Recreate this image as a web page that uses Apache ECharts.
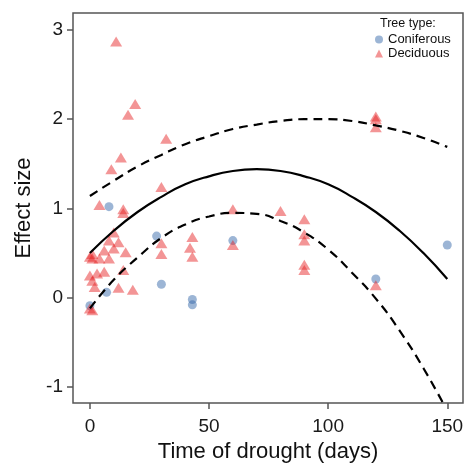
<!DOCTYPE html>
<html>
<head>
<meta charset="utf-8">
<script src="https://cdn.jsdelivr.net/npm/echarts@6/dist/echarts.min.js"></script>
<style>
  html, body { margin: 0; padding: 0; background: #fff; }
  #chart { width: 466px; height: 465px; }
</style>
</head>
<body>
<div id="chart"></div>
<script>
// points (days, effect size)
const coniferousDays = [8, 28, 30, 43, 43, 60, 7, 0, 120, 150]
const coniferousEffect = [1.02, 0.69, 0.15, -0.02, -0.08, 0.64, 0.06, -0.09, 0.21, 0.59]

const deciduousDays = [11, 19, 16, 32, 13, 9, 30, 4, 14, 14, 10, 8, 12, 15, 6, 10, 1, 4, 8, 1, 0, 0, 3, 6, 14, 1, 2, 12, 18, 0, 1,
  30, 30, 43, 42, 43, 60, 60, 80, 90, 90, 90, 90, 90, 120, 120, 120, 120]
const deciduousEffect = [2.87, 2.17, 2.05, 1.78, 1.57, 1.44, 1.24, 1.04, 0.99, 0.95, 0.73, 0.64, 0.62, 0.51, 0.53, 0.55, 0.49, 0.44, 0.44, 0.44, 0.46, 0.25, 0.27, 0.29, 0.31, 0.19, 0.12, 0.11, 0.09, -0.12, -0.14,
  0.61, 0.49, 0.68, 0.56, 0.46, 0.99, 0.59, 0.97, 0.88, 0.71, 0.64, 0.37, 0.31, 2.03, 2.0, 1.91, 0.14]

// fitted curve and band, read every 10 days
const fitDays = [0, 10, 20, 30, 40, 50, 60, 70, 80, 90, 100, 110, 120, 130, 140, 150]
const fitMean = [0.50, 0.75, 0.96, 1.13, 1.27, 1.36, 1.42, 1.44, 1.42, 1.36, 1.27, 1.13, 0.96, 0.75, 0.50, 0.21]
const fitUpper = [1.14, 1.31, 1.47, 1.60, 1.72, 1.81, 1.89, 1.94, 1.98, 2.00, 2.00, 1.98, 1.93, 1.87, 1.79, 1.69]
const fitLower = [-0.12, 0.20, 0.45, 0.67, 0.82, 0.91, 0.95, 0.94, 0.86, 0.73, 0.54, 0.28, -0.01, -0.37, -0.79, -1.27]

const xTicks = [0, 50, 100, 150]
const yTicks = [-1, 0, 1, 2, 3]

const font = 'Liberation Sans, Arial, Helvetica, sans-serif'
const blue = 'rgba(55,105,170,0.62)'
const red = 'rgba(228,26,28,0.58)'

function pairs(xs, ys) {
  return xs.map(function(x, i) { return [x, ys[i]] })
}

const myChart = echarts.init(document.getElementById('chart'))

const option = {
  animation: false,
  backgroundColor: '#fff',
  textStyle: { fontFamily: font },
  grid: {
    left: 73,
    top: 13,
    right: 3,
    bottom: 62,
    containLabel: false,
    outerBoundsMode: 'none',
    show: true,
    borderColor: '#555',
    borderWidth: 1.5,
    backgroundColor: '#fff'
  },
  title: {
    text: 'Tree type:',
    left: 380,
    top: 17,
    padding: 0,
    textStyle: { fontSize: 12.5, fontWeight: 'normal', color: '#111', fontFamily: font }
  },
  legend: {
    orient: 'vertical',
    left: 375,
    top: 33,
    padding: 0,
    itemGap: 1,
    itemWidth: 8,
    itemHeight: 8,
    textStyle: { fontSize: 13, color: '#111', fontFamily: font },
    data: [
      { name: 'Coniferous', icon: 'circle' },
      { name: 'Deciduous', icon: 'triangle' }
    ]
  },
  xAxis: {
    type: 'value',
    min: -7.1,
    max: 156.6,
    name: 'Time of drought (days)',
    nameLocation: 'middle',
    nameGap: 37,
    nameTextStyle: { fontSize: 22, color: '#111', fontFamily: font },
    splitLine: { show: false },
    axisLine: { show: false, onZero: false },
    axisTick: { show: true, length: 6, customValues: xTicks, lineStyle: { color: '#555', width: 1.5 } },
    axisLabel: { customValues: xTicks, fontSize: 19, color: '#1a1a1a', margin: 14, fontFamily: font }
  },
  yAxis: {
    type: 'value',
    min: -1.18,
    max: 3.19,
    name: 'Effect size',
    nameLocation: 'middle',
    nameGap: 38,
    nameTextStyle: { fontSize: 22, color: '#111', fontFamily: font },
    splitLine: { show: false },
    axisLine: { show: false, onZero: false },
    axisTick: { show: true, length: 6, customValues: yTicks, lineStyle: { color: '#555', width: 1.5 } },
    axisLabel: { customValues: yTicks, fontSize: 19, color: '#1a1a1a', margin: 10, fontFamily: font }
  },
  series: [
    {
      name: 'Coniferous',
      type: 'scatter',
      symbol: 'circle',
      symbolSize: 9,
      itemStyle: { color: blue },
      data: pairs(coniferousDays, coniferousEffect)
    },
    {
      name: 'Deciduous',
      type: 'scatter',
      symbol: 'triangle',
      symbolSize: [12, 10],
      itemStyle: { color: red },
      data: pairs(deciduousDays, deciduousEffect)
    },
    {
      name: 'fit',
      type: 'line',
      smooth: true,
      showSymbol: false,
      silent: true,
      lineStyle: { color: '#000', width: 2.2 },
      data: pairs(fitDays, fitMean)
    },
    {
      name: 'upper',
      type: 'line',
      smooth: true,
      showSymbol: false,
      silent: true,
      lineStyle: { color: '#000', width: 2.2, type: [9, 6] },
      data: pairs(fitDays, fitUpper)
    },
    {
      name: 'lower',
      type: 'line',
      smooth: true,
      showSymbol: false,
      silent: true,
      clip: true,
      lineStyle: { color: '#000', width: 2.2, type: [9, 6] },
      data: pairs(fitDays, fitLower)
    }
  ]
}

myChart.setOption(option)
</script>
</body>
</html>
